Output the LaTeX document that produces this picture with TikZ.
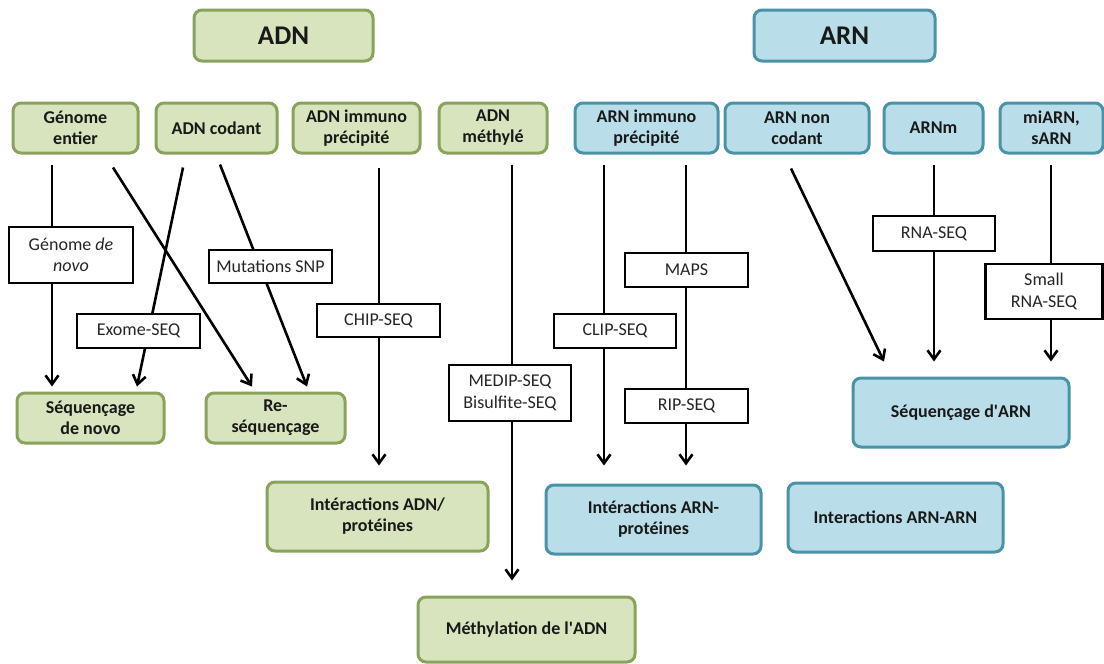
\documentclass[tikz,border=0pt]{standalone}
\usepackage{fontspec}
\setmainfont{Carlito}
\usetikzlibrary{arrows.meta,calc}
\definecolor{grfill}{HTML}{D7E4BD}
\definecolor{grline}{HTML}{8AA35C}
\definecolor{blfill}{HTML}{B9DEE9}
\definecolor{blline}{HTML}{4A93A6}
\begin{document}
\begin{tikzpicture}[x=1pt,y=-1pt,
  box/.style={rounded corners=8pt, line width=3pt, align=center, inner sep=0pt,
    font=\bfseries\fontsize{18}{21}\selectfont, text=black!90},
  adn/.style={box, draw=grline, fill=grfill},
  arn/.style={box, draw=blline, fill=blfill},
  title/.style={font=\bfseries\fontsize{27}{30}\selectfont},
  tag/.style={draw=black, fill=white, line width=2.6pt, align=center, inner sep=0pt,
    font=\fontsize{18}{21.5}\selectfont, text=black!85},
  arr/.style={line width=2.6pt, -{Straight Barb[length=9pt,width=13pt]}}]

\fill[white] (0,0) rectangle (1104,664);
\useasboundingbox (0,0) rectangle (1104,664);

% headings
\node[adn, title, minimum width=179, minimum height=51] (adn) at (283.5,35.5) {ADN};
\node[arn, title, minimum width=181, minimum height=51] (arn) at (844.5,35.5) {ARN};

% starting material
\node[adn, minimum width=125, minimum height=50] (ge) at (75.5,128) {Génome\\entier};
\node[adn, minimum width=121, minimum height=50] (ac) at (216.5,128) {ADN codant};
\node[adn, minimum width=127, minimum height=50] (ai) at (356.5,128) {ADN immuno\\précipité};
\node[adn, minimum width=108, minimum height=50] (am) at (493,128) {ADN\\méthylé};
\node[arn, minimum width=143, minimum height=50] (ri) at (646.5,128) {ARN immuno\\précipité};
\node[arn, minimum width=144, minimum height=50] (rn) at (797,128) {ARN non\\codant};
\node[arn, minimum width=99, minimum height=50] (rm) at (933.5,128) {ARNm};
\node[arn, minimum width=103, minimum height=50] (mi) at (1051.5,128) {miARN,\\sARN};

% outcomes
\node[adn, minimum width=147, minimum height=50] (sdn) at (90.5,418) {Séquençage\\de novo};
\node[adn, minimum width=139, minimum height=50] (rs) at (275.5,418) {Re-\\séquençage};
\node[adn, minimum width=221, minimum height=69] (iap) at (377.5,516.5) {Intéractions ADN/\\protéines};
\node[adn, minimum width=217, minimum height=65] (me) at (526.5,629.5) {Méthylation de l\textquotesingle ADN};
\node[arn, minimum width=215, minimum height=69] (irp) at (653.5,519.5) {Intéractions ARN-\\protéines};
\node[arn, minimum width=215, minimum height=69] (ira) at (895.5,517.5) {Interactions ARN-ARN};
\node[arn, minimum width=216, minimum height=69] (sar) at (961,412.5) {Séquençage d\textquotesingle ARN};

% connectors
\draw[arr] ($(ge.south)+(-23.5,10)$) -- ($(sdn.north)+(-38.5,-5)$);
\draw[arr] ($(ge.south)+(37.5,13)$) -- ($(rs.north)+(-23.5,-5)$);
\draw[arr] ($(ac.south)+(-33.5,13)$) -- ($(sdn.north)+(46.5,-5)$);
\draw[arr] ($(ac.south)+(3.5,10)$) -- ($(rs.north)+(31.5,-5)$);
\draw[arr] ($(ai.south)+(22.5,13)$) -- ($(iap.north)+(1.5,-15)$);
\draw[arr] ($(am.south)+(19,10)$) -- ($(me.north)+(-14.5,-15)$);
\draw[arr] ($(ri.south)+(-42.5,10)$) -- ($(irp.north)+(-49.5,-18)$);
\draw[arr] ($(ri.south)+(39.5,10)$) -- ($(irp.north)+(32.5,-18)$);
\draw[arr] ($(rn.south)+(-6,14)$) -- ($(sar.north)+(-77,-15)$);
\draw[arr] ($(rm.south)+(0.5,10)$) -- ($(sar.north)+(-27,-15)$);
\draw[arr] ($(mi.south)+(-0.5,10)$) -- ($(sar.north)+(90,-15)$);

% technique labels on the connectors
\node[tag, minimum width=124, minimum height=56] (t1) at (71,255) {Génome \textit{de}\\\textit{novo}};
\node[tag, minimum width=123, minimum height=34] (t2) at (138.5,331) {Exome-SEQ};
\node[tag, minimum width=123, minimum height=33] (t3) at (270.5,266.5) {Mutations SNP};
\node[tag, minimum width=123, minimum height=33] (t4) at (378.5,320.5) {CHIP-SEQ};
\node[tag, minimum width=122, minimum height=56] (t5) at (510,393) {MEDIP-SEQ\\Bisulfite-SEQ};
\node[tag, minimum width=122, minimum height=34] (t6) at (615,331) {CLIP-SEQ};
\node[tag, minimum width=123, minimum height=34] (t7) at (686.5,270) {MAPS};
\node[tag, minimum width=123, minimum height=34] (t8) at (686.5,406) {RIP-SEQ};
\node[tag, minimum width=122, minimum height=35] (t9) at (934,233.5) {RNA-SEQ};
\node[tag, minimum width=117, minimum height=55] (t10) at (1044,291.5) {Small\\RNA-SEQ};
\end{tikzpicture}
\end{document}
